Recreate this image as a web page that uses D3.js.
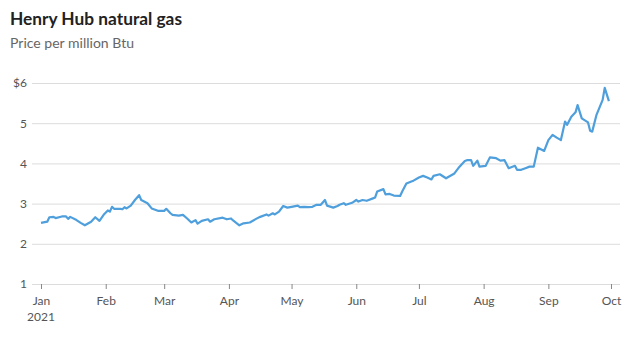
<!DOCTYPE html>
<html><head><meta charset="utf-8">
<script src="https://cdn.jsdelivr.net/npm/d3@7"></script>
<style>body{margin:0;background:#fff;} svg{display:block;}</style>
</head><body>
<svg id="c" width="640" height="337"></svg>
<script>
const title = "Henry Hub natural gas";
const subtitle = "Price per million Btu";
const dates = ["2021-01-01","2021-01-04","2021-01-05","2021-01-07","2021-01-08","2021-01-11","2021-01-13","2021-01-14","2021-01-15","2021-01-18","2021-01-20","2021-01-22","2021-01-25","2021-01-27","2021-01-29","2021-01-31","2021-02-02","2021-02-03","2021-02-04","2021-02-05","2021-02-08","2021-02-09","2021-02-10","2021-02-11","2021-02-13","2021-02-15","2021-02-17","2021-02-18","2021-02-21","2021-02-23","2021-02-26","2021-03-01","2021-03-02","2021-03-04","2021-03-05","2021-03-08","2021-03-10","2021-03-12","2021-03-14","2021-03-16","2021-03-17","2021-03-19","2021-03-22","2021-03-23","2021-03-25","2021-03-29","2021-03-31","2021-04-02","2021-04-03","2021-04-06","2021-04-08","2021-04-11","2021-04-14","2021-04-16","2021-04-19","2021-04-20","2021-04-22","2021-04-23","2021-04-25","2021-04-27","2021-04-29","2021-05-01","2021-05-04","2021-05-05","2021-05-07","2021-05-09","2021-05-11","2021-05-13","2021-05-15","2021-05-17","2021-05-18","2021-05-21","2021-05-23","2021-05-24","2021-05-26","2021-05-27","2021-05-30","2021-06-01","2021-06-02","2021-06-04","2021-06-06","2021-06-09","2021-06-10","2021-06-11","2021-06-14","2021-06-15","2021-06-17","2021-06-19","2021-06-22","2021-06-23","2021-06-25","2021-06-28","2021-07-01","2021-07-03","2021-07-05","2021-07-07","2021-07-08","2021-07-11","2021-07-14","2021-07-18","2021-07-20","2021-07-23","2021-07-24","2021-07-26","2021-07-27","2021-07-29","2021-07-30","2021-08-02","2021-08-04","2021-08-07","2021-08-09","2021-08-11","2021-08-13","2021-08-16","2021-08-17","2021-08-19","2021-08-21","2021-08-23","2021-08-25","2021-08-27","2021-08-30","2021-09-01","2021-09-03","2021-09-05","2021-09-07","2021-09-09","2021-09-10","2021-09-12","2021-09-14","2021-09-15","2021-09-17","2021-09-20","2021-09-21","2021-09-22","2021-09-24","2021-09-27","2021-09-28","2021-09-30"];
const prices = [2.52,2.55,2.66,2.67,2.64,2.68,2.68,2.62,2.67,2.59,2.52,2.46,2.55,2.66,2.57,2.72,2.83,2.80,2.92,2.87,2.87,2.86,2.91,2.88,2.95,3.09,3.21,3.09,3.01,2.88,2.82,2.82,2.87,2.76,2.72,2.70,2.72,2.63,2.53,2.59,2.50,2.57,2.61,2.55,2.61,2.65,2.61,2.63,2.58,2.46,2.51,2.53,2.62,2.67,2.73,2.70,2.76,2.73,2.80,2.94,2.90,2.92,2.95,2.91,2.92,2.91,2.92,2.97,2.97,3.09,2.95,2.90,2.94,2.97,3.01,2.97,3.02,3.09,3.05,3.09,3.07,3.13,3.15,3.30,3.36,3.23,3.24,3.20,3.19,3.30,3.50,3.56,3.65,3.69,3.65,3.60,3.69,3.73,3.63,3.75,3.89,4.06,4.08,4.08,3.94,4.07,3.92,3.94,4.15,4.13,4.07,4.08,3.88,3.94,3.84,3.84,3.88,3.92,3.92,4.39,4.31,4.58,4.71,4.64,4.58,5.04,4.96,5.16,5.27,5.45,5.12,5.02,4.81,4.79,5.20,5.58,5.88,5.55];
const yTicks = [1,2,3,4,5,6];
const yTickLabels = ["1","2","3","4","5","$6"];
const xTickDates = ["2021-01-01","2021-02-01","2021-03-01","2021-04-01","2021-05-01","2021-06-01","2021-07-01","2021-08-01","2021-09-01","2021-10-01"];
const xTickLabels = ["Jan","Feb","Mar","Apr","May","Jun","Jul","Aug","Sep","Oct"];

const parse = d3.timeParse("%Y-%m-%d");
const data = dates.map((d,i)=>({date:parse(d), v:prices[i]}));
const svg = d3.select("#c");
const font = "Lato, 'Open Sans', sans-serif";

const x = d3.scaleTime().domain([parse("2021-01-01"), parse("2021-10-01")]).range([41, 611]);
const y = d3.scaleLinear().domain([1,6]).range([284, 83]);

svg.append("text").attr("x",10).attr("y",25).text(title)
  .attr("font-family",font).attr("font-weight","bold").attr("font-size",16.5).attr("fill","#222")
  .attr("textLength",172).attr("lengthAdjust","spacingAndGlyphs");
svg.append("text").attr("x",10).attr("y",48).text(subtitle)
  .attr("font-family",font).attr("font-size",13).attr("fill","#666")
  .attr("textLength",124).attr("lengthAdjust","spacingAndGlyphs");

// y gridlines + labels
const yAxis = d3.axisLeft(y).tickValues(yTicks).tickSize(-(620-32)).tickPadding(5)
  .tickFormat((d,i)=>yTickLabels[i]);
const gy = svg.append("g").attr("transform","translate(32,0)").call(yAxis);
gy.select(".domain").remove();
gy.selectAll(".tick line").attr("stroke","#dcdcdc").attr("stroke-width",1);
gy.selectAll(".tick text").attr("font-family",font).attr("font-size",12).attr("fill","#555");

// x axis
const xAxis = d3.axisBottom(x).tickValues(xTickDates.map(parse)).tickSize(5).tickPadding(7)
  .tickFormat((d,i)=>xTickLabels[i]);
const gx = svg.append("g").attr("transform","translate(0,284)").call(xAxis);
gx.select(".domain").remove();
gx.selectAll(".tick line").attr("stroke","#888").attr("stroke-width",1);
gx.selectAll(".tick text").attr("font-family",font).attr("font-size",12).attr("fill","#555");
svg.append("text").attr("x",x(parse("2021-01-01"))).attr("y",321).attr("text-anchor","middle")
  .text("2021").attr("font-family",font).attr("font-size",12).attr("fill","#555");

// line
const line = d3.line().x(d=>x(d.date)).y(d=>y(d.v));
svg.append("path").datum(data).attr("d",line).attr("fill","none")
  .attr("stroke","#4e9fdc").attr("stroke-width",2.2).attr("stroke-linejoin","round");
</script>
</body></html>
